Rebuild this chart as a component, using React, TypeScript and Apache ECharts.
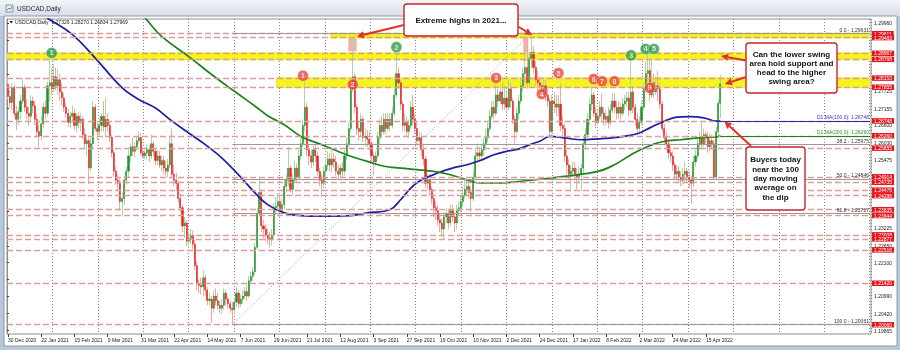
import React, { useEffect, useRef } from 'react';
import * as echarts from 'echarts';

const FONT = 'Liberation Sans, Arial, sans-serif';
const MONTHS = ['Jan', 'Feb', 'Mar', 'Apr', 'May', 'Jun', 'Jul', 'Aug', 'Sep', 'Oct', 'Nov', 'Dec'];
const FIRST_DAY = [2020, 11, 30];
const HOLIDAYS = ['2021-01-01'];
const SLOT_COUNT = 416; // bars + right-side chart shift
const LABEL_EVERY = 16;
const LAST_LABEL_INDEX = 336;

const priceTicks = [1.19865, 1.2042, 1.2099, 1.21545, 1.221, 1.2265, 1.23225, 1.2378, 1.24335, 1.24905, 1.25475, 1.2603, 1.266, 1.27155, 1.27725, 1.2828, 1.28835, 1.2939, 1.2996];
const Y_MIN = 1.19755;
const Y_MAX = 1.30093;

// [open, close, low, high]
const ohlc: number[][] = [
  [1.2795,1.2755,1.2745,1.2821],[1.2755,1.2735,1.2718,1.2775],
  [1.2735,1.2785,1.2710,1.2800],[1.2785,1.2700,1.2690,1.2795],[1.2700,1.2680,1.2645,1.2725],[1.2680,1.2705,1.2662,1.2720],[1.2705,1.2740,1.2680,1.2760],
  [1.2740,1.2785,1.2730,1.2815],[1.2785,1.2720,1.2705,1.2795],[1.2720,1.2700,1.2680,1.2745],[1.2700,1.2690,1.2660,1.2720],[1.2690,1.2740,1.2670,1.2760],
  [1.2740,1.2725,1.2700,1.2755],[1.2725,1.2680,1.2660,1.2740],[1.2680,1.2640,1.2620,1.2700],[1.2640,1.2625,1.2588,1.2660],[1.2625,1.2665,1.2610,1.2690],
  [1.2665,1.2720,1.2650,1.2735],[1.2720,1.2700,1.2680,1.2745],[1.2700,1.2790,1.2690,1.2805],[1.2790,1.2800,1.2740,1.2880],[1.2800,1.2780,1.2760,1.2845],
  [1.2780,1.2820,1.2770,1.2860],[1.2820,1.2790,1.2775,1.2850],[1.2790,1.2810,1.2760,1.2845],[1.2810,1.2770,1.2740,1.2830],[1.2770,1.2750,1.2725,1.2800],
  [1.2750,1.2720,1.2705,1.2765],[1.2720,1.2700,1.2685,1.2735],[1.2700,1.2670,1.2655,1.2715],[1.2670,1.2690,1.2650,1.2705],[1.2690,1.2700,1.2670,1.2725],
  [1.2700,1.2660,1.2645,1.2715],[1.2660,1.2690,1.2640,1.2700],[1.2690,1.2670,1.2650,1.2705],[1.2670,1.2680,1.2640,1.2700],[1.2680,1.2630,1.2615,1.2690],
  [1.2630,1.2600,1.2580,1.2650],[1.2600,1.2610,1.2560,1.2630],[1.2610,1.2520,1.2468,1.2620],[1.2520,1.2600,1.2510,1.2620],[1.2600,1.2720,1.2585,1.2740],
  [1.2720,1.2650,1.2640,1.2730],[1.2650,1.2640,1.2610,1.2670],[1.2640,1.2660,1.2625,1.2680],[1.2660,1.2690,1.2640,1.2700],[1.2690,1.2655,1.2640,1.2740],
  [1.2655,1.2680,1.2620,1.2750],[1.2680,1.2660,1.2640,1.2700],[1.2660,1.2620,1.2605,1.2675],[1.2620,1.2570,1.2555,1.2630],[1.2570,1.2510,1.2490,1.2580],
  [1.2510,1.2480,1.2465,1.2525],[1.2480,1.2470,1.2445,1.2500],[1.2470,1.2410,1.2380,1.2485],[1.2410,1.2420,1.2362,1.2440],[1.2420,1.2480,1.2400,1.2495],
  [1.2480,1.2510,1.2465,1.2525],[1.2510,1.2560,1.2490,1.2580],[1.2560,1.2590,1.2540,1.2600],[1.2590,1.2575,1.2560,1.2620],[1.2575,1.2590,1.2555,1.2605],
  [1.2590,1.2610,1.2580,1.2625],[1.2610,1.2620,1.2600,1.2640],[1.2620,1.2570,1.2560,1.2635],[1.2570,1.2560,1.2550,1.2590],[1.2560,1.2570,1.2550,1.2580],
  [1.2570,1.2580,1.2545,1.2600],[1.2580,1.2560,1.2540,1.2595],[1.2560,1.2600,1.2550,1.2630],[1.2600,1.2575,1.2560,1.2610],[1.2575,1.2545,1.2530,1.2585],
  [1.2545,1.2560,1.2530,1.2580],[1.2560,1.2530,1.2520,1.2575],[1.2530,1.2545,1.2510,1.2560],[1.2545,1.2520,1.2500,1.2560],[1.2520,1.2510,1.2495,1.2545],
  [1.2510,1.2530,1.2490,1.2550],[1.2530,1.2600,1.2520,1.2625],[1.2600,1.2500,1.2490,1.2650],[1.2500,1.2480,1.2460,1.2530],[1.2480,1.2470,1.2445,1.2505],
  [1.2470,1.2420,1.2405,1.2480],[1.2420,1.2390,1.2375,1.2435],[1.2390,1.2330,1.2310,1.2400],[1.2330,1.2340,1.2290,1.2360],[1.2340,1.2280,1.2265,1.2350],
  [1.2280,1.2290,1.2265,1.2310],[1.2290,1.2300,1.2270,1.2320],[1.2300,1.2270,1.2255,1.2315],[1.2270,1.2200,1.2185,1.2285],[1.2200,1.2140,1.2120,1.2215],
  [1.2140,1.2135,1.2110,1.2155],[1.2135,1.2130,1.2105,1.2160],[1.2130,1.2160,1.2100,1.2185],[1.2160,1.2120,1.2100,1.2170],[1.2120,1.2085,1.2070,1.2130],
  [1.2085,1.2090,1.2070,1.2110],[1.2090,1.2060,1.2013,1.2100],[1.2060,1.2100,1.2045,1.2115],[1.2100,1.2085,1.2070,1.2125],[1.2085,1.2070,1.2055,1.2110],
  [1.2070,1.2060,1.2045,1.2085],[1.2060,1.2070,1.2040,1.2090],[1.2070,1.2110,1.2055,1.2125],[1.2110,1.2090,1.2070,1.2120],[1.2090,1.2075,1.2060,1.2100],
  [1.2075,1.2060,1.2045,1.2085],[1.2060,1.2055,1.2006,1.2080],[1.2055,1.2080,1.2040,1.2095],[1.2080,1.2110,1.2065,1.2130],[1.2110,1.2075,1.2060,1.2120],
  [1.2075,1.2090,1.2065,1.2105],[1.2090,1.2100,1.2075,1.2120],[1.2100,1.2115,1.2090,1.2130],[1.2115,1.2100,1.2085,1.2135],[1.2100,1.2150,1.2095,1.2165],
  [1.2150,1.2165,1.2140,1.2180],[1.2165,1.2180,1.2150,1.2195],[1.2180,1.2260,1.2170,1.2275],[1.2260,1.2370,1.2250,1.2390],[1.2370,1.2440,1.2360,1.2487],
  [1.2440,1.2330,1.2310,1.2450],[1.2330,1.2320,1.2290,1.2350],[1.2320,1.2300,1.2280,1.2335],[1.2300,1.2290,1.2270,1.2320],[1.2290,1.2285,1.2260,1.2310],
  [1.2285,1.2300,1.2265,1.2320],[1.2300,1.2390,1.2290,1.2405],[1.2390,1.2395,1.2365,1.2425],[1.2395,1.2410,1.2380,1.2440],[1.2410,1.2380,1.2360,1.2430],
  [1.2380,1.2400,1.2370,1.2420],[1.2400,1.2460,1.2385,1.2480],[1.2460,1.2480,1.2440,1.2500],[1.2480,1.2520,1.2460,1.2590],[1.2520,1.2450,1.2440,1.2530],
  [1.2450,1.2480,1.2430,1.2500],[1.2480,1.2520,1.2470,1.2545],[1.2520,1.2490,1.2470,1.2535],[1.2490,1.2560,1.2480,1.2580],[1.2560,1.2600,1.2545,1.2620],
  [1.2600,1.2660,1.2590,1.2680],[1.2660,1.2720,1.2640,1.2808],[1.2720,1.2580,1.2560,1.2735],[1.2580,1.2560,1.2530,1.2600],[1.2560,1.2540,1.2520,1.2580],
  [1.2540,1.2580,1.2525,1.2600],[1.2580,1.2560,1.2540,1.2600],[1.2560,1.2510,1.2495,1.2575],[1.2510,1.2480,1.2460,1.2520],[1.2480,1.2470,1.2425,1.2500],
  [1.2470,1.2510,1.2455,1.2525],[1.2510,1.2530,1.2490,1.2550],[1.2530,1.2550,1.2515,1.2575],[1.2550,1.2530,1.2510,1.2570],[1.2530,1.2550,1.2505,1.2580],
  [1.2550,1.2540,1.2520,1.2570],[1.2540,1.2510,1.2495,1.2560],[1.2510,1.2500,1.2480,1.2530],[1.2500,1.2520,1.2490,1.2535],[1.2520,1.2510,1.2490,1.2540],
  [1.2510,1.2560,1.2495,1.2580],[1.2560,1.2600,1.2545,1.2620],[1.2600,1.2650,1.2590,1.2670],[1.2650,1.2780,1.2640,1.2800],[1.2780,1.2820,1.2770,1.2949],
  [1.2820,1.2720,1.2700,1.2830],[1.2720,1.2650,1.2630,1.2730],[1.2650,1.2640,1.2610,1.2670],[1.2640,1.2680,1.2625,1.2700],[1.2680,1.2620,1.2605,1.2690],
  [1.2620,1.2625,1.2590,1.2650],[1.2625,1.2615,1.2590,1.2645],[1.2615,1.2600,1.2580,1.2640],[1.2600,1.2560,1.2540,1.2610],[1.2560,1.2540,1.2495,1.2570],
  [1.2540,1.2560,1.2525,1.2575],[1.2560,1.2620,1.2550,1.2640],[1.2620,1.2660,1.2600,1.2680],[1.2660,1.2640,1.2620,1.2690],[1.2640,1.2680,1.2630,1.2700],
  [1.2680,1.2650,1.2630,1.2700],[1.2650,1.2680,1.2640,1.2700],[1.2680,1.2660,1.2640,1.2700],[1.2660,1.2700,1.2650,1.2720],[1.2700,1.2760,1.2690,1.2780],
  [1.2760,1.2830,1.2750,1.2896],[1.2830,1.2800,1.2780,1.2850],[1.2800,1.2730,1.2710,1.2810],[1.2730,1.2660,1.2640,1.2740],[1.2660,1.2670,1.2640,1.2700],
  [1.2670,1.2640,1.2625,1.2690],[1.2640,1.2660,1.2620,1.2680],[1.2660,1.2720,1.2650,1.2740],[1.2720,1.2680,1.2660,1.2760],[1.2680,1.2650,1.2630,1.2700],
  [1.2650,1.2610,1.2595,1.2670],[1.2610,1.2620,1.2590,1.2640],[1.2620,1.2580,1.2560,1.2635],[1.2580,1.2550,1.2530,1.2600],[1.2550,1.2470,1.2455,1.2560],
  [1.2470,1.2480,1.2450,1.2500],[1.2480,1.2450,1.2430,1.2500],[1.2450,1.2420,1.2400,1.2460],[1.2420,1.2390,1.2360,1.2430],[1.2390,1.2380,1.2350,1.2410],
  [1.2380,1.2350,1.2330,1.2400],[1.2350,1.2340,1.2310,1.2370],[1.2340,1.2320,1.2300,1.2355],[1.2320,1.2360,1.2288,1.2375],[1.2360,1.2370,1.2340,1.2390],
  [1.2370,1.2340,1.2320,1.2385],[1.2340,1.2380,1.2330,1.2400],[1.2380,1.2360,1.2345,1.2400],[1.2360,1.2340,1.2310,1.2370],[1.2340,1.2380,1.2320,1.2400],
  [1.2380,1.2390,1.2365,1.2410],[1.2390,1.2410,1.2375,1.2430],[1.2410,1.2430,1.2395,1.2460],[1.2430,1.2450,1.2420,1.2480],[1.2450,1.2460,1.2430,1.2480],
  [1.2460,1.2440,1.2420,1.2475],[1.2440,1.2420,1.2375,1.2460],[1.2420,1.2490,1.2410,1.2510],[1.2490,1.2560,1.2480,1.2580],[1.2560,1.2570,1.2540,1.2600],
  [1.2570,1.2560,1.2540,1.2590],[1.2560,1.2580,1.2545,1.2600],[1.2580,1.2600,1.2560,1.2620],[1.2600,1.2620,1.2585,1.2650],[1.2620,1.2650,1.2605,1.2670],
  [1.2650,1.2690,1.2640,1.2710],[1.2690,1.2720,1.2680,1.2740],[1.2720,1.2700,1.2680,1.2740],[1.2700,1.2760,1.2690,1.2805],[1.2760,1.2740,1.2720,1.2780],
  [1.2740,1.2770,1.2730,1.2790],[1.2770,1.2730,1.2710,1.2800],[1.2730,1.2750,1.2710,1.2790],[1.2750,1.2720,1.2700,1.2770],[1.2720,1.2780,1.2710,1.2810],
  [1.2780,1.2740,1.2720,1.2800],[1.2740,1.2680,1.2665,1.2750],[1.2680,1.2640,1.2600,1.2690],[1.2640,1.2700,1.2630,1.2720],[1.2700,1.2740,1.2680,1.2760],
  [1.2740,1.2790,1.2730,1.2810],[1.2790,1.2830,1.2770,1.2850],[1.2830,1.2850,1.2800,1.2920],[1.2850,1.2800,1.2780,1.2950],[1.2800,1.2880,1.2790,1.2900],
  [1.2880,1.2900,1.2850,1.2963],[1.2900,1.2850,1.2830,1.2920],[1.2850,1.2810,1.2790,1.2870],[1.2810,1.2800,1.2770,1.2840],[1.2800,1.2790,1.2770,1.2820],
  [1.2790,1.2770,1.2750,1.2800],[1.2770,1.2790,1.2755,1.2810],[1.2790,1.2760,1.2740,1.2810],[1.2760,1.2740,1.2720,1.2780],[1.2740,1.2640,1.2625,1.2750],
  [1.2640,1.2740,1.2630,1.2760],[1.2740,1.2730,1.2700,1.2770],[1.2730,1.2720,1.2690,1.2760],[1.2720,1.2730,1.2690,1.2760],[1.2730,1.2660,1.2640,1.2800],
  [1.2660,1.2650,1.2620,1.2690],[1.2650,1.2560,1.2540,1.2665],[1.2560,1.2530,1.2500,1.2580],[1.2530,1.2500,1.2480,1.2550],[1.2500,1.2510,1.2450,1.2530],
  [1.2510,1.2520,1.2490,1.2540],[1.2520,1.2500,1.2480,1.2540],[1.2500,1.2490,1.2450,1.2520],[1.2490,1.2500,1.2470,1.2525],[1.2500,1.2520,1.2445,1.2535],
  [1.2520,1.2600,1.2505,1.2620],[1.2600,1.2630,1.2580,1.2650],[1.2630,1.2680,1.2620,1.2700],[1.2680,1.2730,1.2660,1.2750],[1.2730,1.2760,1.2710,1.2790],
  [1.2760,1.2700,1.2690,1.2770],[1.2700,1.2670,1.2650,1.2720],[1.2670,1.2690,1.2660,1.2710],[1.2690,1.2720,1.2680,1.2740],[1.2720,1.2700,1.2670,1.2765],
  [1.2700,1.2680,1.2660,1.2720],[1.2680,1.2690,1.2660,1.2710],[1.2690,1.2670,1.2650,1.2720],[1.2670,1.2710,1.2660,1.2730],[1.2710,1.2740,1.2700,1.2765],
  [1.2740,1.2720,1.2700,1.2765],[1.2720,1.2700,1.2680,1.2740],[1.2700,1.2720,1.2680,1.2740],[1.2720,1.2700,1.2680,1.2735],[1.2700,1.2730,1.2690,1.2750],
  [1.2730,1.2740,1.2710,1.2760],[1.2740,1.2750,1.2720,1.2770],[1.2750,1.2710,1.2690,1.2770],[1.2710,1.2770,1.2700,1.2880],[1.2770,1.2720,1.2700,1.2790],
  [1.2720,1.2680,1.2660,1.2730],[1.2680,1.2650,1.2630,1.2700],[1.2650,1.2670,1.2635,1.2690],[1.2670,1.2720,1.2660,1.2740],[1.2720,1.2780,1.2710,1.2800],
  [1.2780,1.2830,1.2770,1.2870],[1.2830,1.2840,1.2800,1.2901],[1.2840,1.2760,1.2740,1.2880],[1.2760,1.2800,1.2750,1.2880],[1.2800,1.2770,1.2750,1.2830],
  [1.2770,1.2790,1.2760,1.2820],[1.2790,1.2780,1.2740,1.2840],[1.2780,1.2730,1.2715,1.2800],[1.2730,1.2650,1.2640,1.2740],[1.2650,1.2620,1.2600,1.2665],
  [1.2620,1.2600,1.2580,1.2640],[1.2600,1.2570,1.2550,1.2615],[1.2570,1.2560,1.2540,1.2590],[1.2560,1.2530,1.2510,1.2575],[1.2530,1.2500,1.2480,1.2540],
  [1.2500,1.2510,1.2480,1.2530],[1.2510,1.2490,1.2470,1.2525],[1.2490,1.2480,1.2460,1.2510],[1.2480,1.2500,1.2465,1.2520],[1.2500,1.2510,1.2470,1.2540],
  [1.2510,1.2490,1.2470,1.2520],[1.2490,1.2480,1.2455,1.2510],[1.2480,1.2470,1.2403,1.2495],[1.2470,1.2540,1.2460,1.2560],[1.2540,1.2560,1.2525,1.2580],
  [1.2560,1.2600,1.2550,1.2620],[1.2600,1.2620,1.2580,1.2640],[1.2620,1.2600,1.2580,1.2670],[1.2600,1.2630,1.2590,1.2650],[1.2630,1.2620,1.2600,1.2640],
  [1.2620,1.2590,1.2570,1.2640],[1.2590,1.2610,1.2575,1.2635],[1.2610,1.2600,1.2580,1.2630],[1.2600,1.2490,1.2482,1.2612],[1.2490,1.2640,1.2485,1.2655],
  [1.2640,1.2733,1.2625,1.2745],[1.27326,1.27969,1.26834,1.2827],
];

// moving averages: [bar index, value]
const ma100Points = [
  [10, 1.3053], [19, 1.3012], [31, 1.2958], [42, 1.2881], [55, 1.2783], [63, 1.2745], [71, 1.2717], [79, 1.2674],
  [87, 1.2635], [95, 1.2597], [103, 1.2553], [111, 1.2498], [119, 1.2438], [125, 1.24], [133, 1.2373], [141, 1.2364],
  [150, 1.2362], [165, 1.2364], [173, 1.2373], [184, 1.2384], [189, 1.2416], [194, 1.2455], [198, 1.2477], [203, 1.2493],
  [208, 1.2507], [214, 1.252], [221, 1.2531], [227, 1.2544], [234, 1.2564], [240, 1.2575], [246, 1.2583], [252, 1.2599],
  [256, 1.2608], [261, 1.2624], [268, 1.2619], [276, 1.2613], [284, 1.2616], [293, 1.2621], [300, 1.2628], [304, 1.2635],
  [309, 1.2652], [316, 1.2674], [322, 1.2687], [328, 1.2689], [335, 1.2685], [341, 1.2674], [343, 1.26748],
];
const ma200Points = [
  [60, 1.306], [66, 1.3013], [74, 1.2952], [88, 1.2881], [98, 1.2827], [109, 1.2772], [119, 1.2723], [125, 1.2692],
  [133, 1.2662], [141, 1.2624], [149, 1.2602], [157, 1.258], [165, 1.2559], [173, 1.2542], [181, 1.2526], [189, 1.252],
  [197, 1.2515], [205, 1.2509], [213, 1.2498], [221, 1.2481], [227, 1.2471], [237, 1.2471], [246, 1.2476], [253, 1.2481],
  [268, 1.2493], [284, 1.2509], [292, 1.2531], [300, 1.2564], [308, 1.2591], [316, 1.2608], [324, 1.2613], [332, 1.2619],
  [341, 1.2622], [343, 1.2626],
];

const levelValues = [1.29611, 1.29483, 1.28967, 1.28768, 1.28153, 1.27855, 1.26748, 1.2626, 1.25855, 1.24914, 1.24735,
  1.24476, 1.24296, 1.23835, 1.23644, 1.23008, 1.22877, 1.22516, 1.2142, 1.2006];
const currentPrice = 1.27969;

const bandHigh = [1.2964, 1.29, 1.28185];
const bandLow = [1.29455, 1.2874, 1.27825];
const bandFrom = [155, 0, 129];

const fibPct = ['0.0', '38.2', '50.0', '61.8', '100.0'];
const fibValues = [1.29631, 1.25975, 1.24846, 1.23717, 1.20061];
const fibFromIdx = 108;
const fibToIdx = 252;

const maLevelNames = ['D1 MA(100,0)', 'D1 MA(200,0)'];
const maLevelValues = [1.26748, 1.2626];
const maLevelFrom = [341, 343];

const redMarkers = [[142, 1.2823, '1'], [166, 1.2794, '2'], [235, 1.2816, '3'], [257, 1.2763, '4'], [265, 1.2832, '5'],
  [282, 1.2812, '6'], [286, 1.2805, '7'], [292, 1.2805, '8'], [309, 1.2783, '9']];
const greenMarkers = [[21, 1.2898, '1'], [187, 1.2917, '2'], [300, 1.289, '3'], [307, 1.2911, '4'], [311, 1.2911, '5']];

const headerText = 'USDCAD,Daily  1.27326 1.28270 1.26834 1.27969';
const windowTitle = 'USDCAD,Daily';
const note1 = 'Extreme highs in 2021...';
const note2 = 'Can the lower swing\narea hold support and\nhead to the higher\nswing area?';
const note3 = 'Buyers today\nnear the 100\nday moving\naverage on\nthe dip';

function buildCategories(): string[] {
  const out: string[] = [];
  const d = new Date(Date.UTC(FIRST_DAY[0], FIRST_DAY[1], FIRST_DAY[2]));
  while (out.length < SLOT_COUNT) {
    const wd = d.getUTCDay();
    const iso = d.toISOString().slice(0, 10);
    if (wd !== 0 && wd !== 6 && !HOLIDAYS.includes(iso)) {
      out.push(`${d.getUTCDate()} ${MONTHS[d.getUTCMonth()]} ${d.getUTCFullYear()}`);
    }
    d.setUTCDate(d.getUTCDate() + 1);
  }
  return out;
}

function arrow(x1: number, y1: number, x2: number, y2: number) {
  const color = '#e0322c';
  const a = Math.atan2(y2 - y1, x2 - x1);
  const len = 7;
  const half = 3.6;
  const bx = x2 - len * Math.cos(a);
  const by = y2 - len * Math.sin(a);
  const px = -Math.sin(a) * half;
  const py = Math.cos(a) * half;
  return [
    { type: 'line', z: 40, shape: { x1, y1, x2: bx, y2: by }, style: { stroke: color, lineWidth: 2 } },
    { type: 'polygon', z: 40, shape: { points: [[x2, y2], [bx + px, by + py], [bx - px, by - py]] }, style: { fill: color } },
  ];
}

function noteBox(x: number, y: number, w: number, h: number, text: string, lineHeight: number) {
  return [
    { type: 'rect', z: 38, shape: { x, y, width: w, height: h, r: 3 }, style: { fill: '#ffffff', stroke: '#c8262a', lineWidth: 1.4 } },
    {
      type: 'text', z: 39, x: x + w / 2, y: y + h / 2,
      style: { text, fill: '#111111', fontSize: 8, fontWeight: 'bold', fontFamily: FONT, align: 'center', verticalAlign: 'middle', lineHeight },
    },
  ];
}

function buildOption() {
  const categories = buildCategories();
  const bodies = ohlc.map(([o, c]) => [o, c, Math.min(o, c), Math.max(o, c)]);
  const showLabel = (i: number) => i % LABEL_EVERY === 0 && i <= LAST_LABEL_INDEX;
  // axis labels that the red price tags cover in the reference are not shown
  const visibleTickLabels = priceTicks.filter((t) => levelValues.every((v) => Math.abs(v - t) > 0.0013));

  const markerSeries = (data: any[], color: string, name: string) => ({
    type: 'scatter', name, z: 20, data, symbol: 'circle', symbolSize: 11,
    itemStyle: { color, borderColor: 'rgba(255,255,255,0.6)', borderWidth: 0.8 },
    label: { show: true, position: 'inside', formatter: (p: any) => p.data[2], color: '#ffffff', fontSize: 7, fontWeight: 'bold', fontFamily: FONT },
    silent: true,
  });

  const graphic: any[] = [
    { type: 'rect', z: -100, shape: { x: 0, y: 0, width: 900, height: 350 }, style: { fill: '#b8c8da' } },
    {
      type: 'rect', z: -99, shape: { x: 0, y: 0, width: 900, height: 16 },
      style: { fill: new echarts.graphic.LinearGradient(0, 0, 0, 1, [{ offset: 0, color: '#f3f5f8' }, { offset: 1, color: '#d6dde6' }]) },
    },
    { type: 'rect', z: -98, shape: { x: 4, y: 16, width: 893, height: 330 }, style: { fill: '#ffffff', stroke: '#8a9bb0', lineWidth: 1 } },
    { type: 'rect', z: -97, shape: { x: 6, y: 5, width: 7, height: 7 }, style: { fill: '#e8eef5', stroke: '#6d84a0', lineWidth: 0.8 } },
    { type: 'polyline', z: -96, shape: { points: [[7, 10], [9, 8], [10.5, 9.5], [12, 6.5]] }, style: { stroke: '#2f7d3a', lineWidth: 0.8, fill: 'none' } },
    { type: 'text', z: -95, x: 17, y: 8.5, style: { text: windowTitle, fontSize: 6.5, fill: '#1b2533', fontFamily: FONT, verticalAlign: 'middle' } },
    { type: 'polygon', z: 30, shape: { points: [[9.5, 21], [13, 21], [11.25, 23.5]] }, style: { fill: '#202020' } },
    { type: 'text', z: 30, x: 15, y: 22.3, style: { text: headerText, fontSize: 5, fill: '#202020', fontFamily: FONT, verticalAlign: 'middle' } },
    { type: 'rect', z: 1, shape: { x: 348.3, y: 37.3, width: 8.4, height: 14 }, style: { fill: 'rgba(238,150,150,0.75)' } },
    { type: 'rect', z: 1, shape: { x: 523.3, y: 38, width: 5, height: 23 }, style: { fill: 'rgba(238,150,150,0.75)' } },
    ...noteBox(404, 4, 114, 32, note1, 10),
    ...noteBox(746, 43, 91, 50, note2, 8.8),
    ...noteBox(746, 147, 59, 63, note3, 9.3),
    ...arrow(404, 25, 357, 36.5),
    ...arrow(518, 26.5, 532, 35),
    ...arrow(746, 60.5, 721, 56),
    ...arrow(746, 77, 725, 84),
    ...arrow(751, 146, 724.5, 121.5),
  ];

  return {
    animation: false,
    graphic,
    grid: { left: 7, right: 29, top: 19, bottom: 16, show: true, backgroundColor: '#ffffff', borderColor: '#8d8d8d', borderWidth: 1 },
    xAxis: [
      {
        type: 'category', data: categories, boundaryGap: true,
        axisLine: { show: false },
        axisTick: { show: true, alignWithLabel: true, interval: (i: number) => showLabel(i), length: 3, lineStyle: { color: '#404040' } },
        axisLabel: { interval: (i: number) => showLabel(i), fontSize: 5, color: '#222222', align: 'left', margin: 3, fontFamily: FONT },
        splitLine: { show: false },
      },
      {
        type: 'value', min: 0, max: 864, interval: 45.4, position: 'bottom',
        axisLine: { show: false }, axisTick: { show: false }, axisLabel: { show: false },
        splitLine: { show: true, lineStyle: { color: '#8a8a8a', type: [1, 2], width: 1 } },
      },
    ],
    yAxis: {
      type: 'value', position: 'right', min: Y_MIN, max: Y_MAX,
      axisLine: { show: true, lineStyle: { color: '#8d8d8d' } },
      axisTick: { show: true, length: 2, customValues: priceTicks, lineStyle: { color: '#404040' } },
      axisLabel: { customValues: visibleTickLabels, formatter: (v: number) => v.toFixed(5), fontSize: 5, color: '#222222', margin: 3, fontFamily: FONT },
      splitLine: { show: false },
    },
    series: [
      {
        type: 'line', name: 'levels', data: [], z: 1, silent: true, symbol: 'none',
        markArea: {
          silent: true, itemStyle: { color: '#f4f41e' },
          data: bandHigh.map((h, k) => bandFrom[k] === 0
            ? [{ yAxis: h }, { yAxis: bandLow[k] }]
            : [{ xAxis: bandFrom[k], yAxis: h }, { xAxis: SLOT_COUNT - 1, yAxis: bandLow[k] }]),
        },
        markLine: {
          silent: true, symbol: 'none', precision: 5,
          lineStyle: { color: '#dd9d9d', type: [6, 3], width: 1.3 },
          label: {
            position: 'end', distance: 1, formatter: (p: any) => Number(p.value).toFixed(5),
            backgroundColor: '#e5171c', color: '#ffffff', fontSize: 5, lineHeight: 5, padding: [0.5, 2, 0, 2], fontFamily: FONT,
          },
          data: [
            ...levelValues.map((v) => ({ yAxis: v })),
            { yAxis: currentPrice, lineStyle: { opacity: 0 }, label: { backgroundColor: '#000000' } },
          ],
        },
      },
      {
        type: 'line', name: 'fib', data: [[fibFromIdx, fibValues[4]], [fibToIdx, fibValues[0]]], z: 1, silent: true,
        symbol: 'none', lineStyle: { color: '#9a9a9a', width: 1, type: [1, 2] },
        markLine: {
          silent: true, symbol: 'none', precision: 5,
          lineStyle: { color: '#9c9c9c', type: 'solid', width: 1 },
          label: { position: 'insideEndTop', distance: 1, fontSize: 5, color: '#333333', fontFamily: FONT },
          data: fibValues.map((v, k) => [
            { coord: [fibFromIdx, v], label: { formatter: `${fibPct[k]} - ${v.toFixed(5)}` } },
            { coord: [SLOT_COUNT - 1, v] },
          ]),
        },
      },
      {
        type: 'candlestick', name: 'wicks', data: ohlc, z: 2, barWidth: 1, silent: true,
        itemStyle: { color: '#a9d9a2', color0: '#f2a7a7', borderColor: '#a9d9a2', borderColor0: '#f2a7a7', borderWidth: 1 },
      },
      {
        type: 'candlestick', name: 'bodies', data: bodies, z: 3, barWidth: 1.6, silent: true,
        itemStyle: { color: '#21902b', color0: '#e3231f', borderColor: '#21902b', borderColor0: '#e3231f', borderWidth: 0.5 },
      },
      {
        type: 'line', name: 'MA100', data: ma100Points, z: 4, symbol: 'none', smooth: 0.4, silent: true,
        lineStyle: { color: '#1d1da3', width: 1.7 },
        markLine: {
          silent: true, symbol: 'none', precision: 5, lineStyle: { color: '#2a2ab0', width: 1, type: 'solid' },
          label: { position: 'insideEndTop', distance: 1, fontSize: 5, color: '#3535c0', fontFamily: FONT, formatter: `${maLevelNames[0]}: ${maLevelValues[0].toFixed(5)}` },
          data: [[{ coord: [maLevelFrom[0], maLevelValues[0]] }, { coord: [SLOT_COUNT - 1, maLevelValues[0]] }]],
        },
      },
      {
        type: 'line', name: 'MA200', data: ma200Points, z: 4, symbol: 'none', smooth: 0.4, silent: true,
        lineStyle: { color: '#1c821c', width: 1.7 },
        markLine: {
          silent: true, symbol: 'none', precision: 5, lineStyle: { color: '#1c821c', width: 1, type: 'solid' },
          label: { position: 'insideEndTop', distance: 1, fontSize: 5, color: '#2a902a', fontFamily: FONT, formatter: `${maLevelNames[1]}: ${maLevelValues[1].toFixed(5)}` },
          data: [[{ coord: [maLevelFrom[1], maLevelValues[1]] }, { coord: [SLOT_COUNT - 1, maLevelValues[1]] }]],
        },
      },
      markerSeries(redMarkers, '#e8463e', 'red markers'),
      markerSeries(greenMarkers, '#2f9b45', 'green markers'),
    ],
  };
}

export default function App() {
  const ref = useRef<HTMLDivElement>(null);
  useEffect(() => {
    if (!ref.current) return;
    const chart = echarts.init(ref.current, null, { renderer: 'svg' });
    chart.setOption(buildOption() as any);
    return () => chart.dispose();
  }, []);
  return <div ref={ref} style={{ position: 'fixed', left: 0, top: 0, width: 900, height: 350 }} />;
}
